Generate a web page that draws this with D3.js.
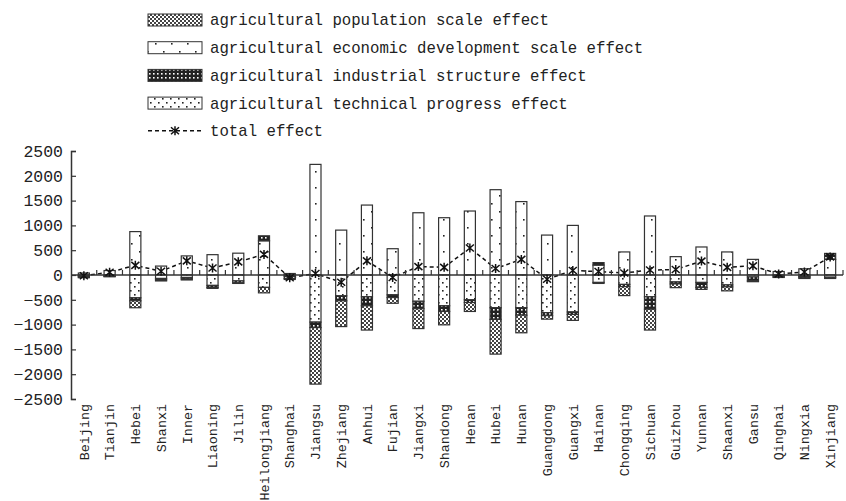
<!DOCTYPE html>
<html>
<head>
<meta charset="utf-8">
<script src="https://cdn.jsdelivr.net/npm/d3@7"></script>
<style>
  body { margin: 0; background: #fff; }
  text { font-family: "Liberation Mono", monospace; fill: #222; }
</style>
</head>
<body>
<div id="chart"></div>
<script>
// provinces and the four decomposition effects
const provinces = ["Beijing", "Tianjin", "Hebei", "Shanxi", "Inner", "Liaoning", "Jilin", "Heilongjiang",
  "Shanghai", "Jiangsu", "Zhejiang", "Anhui", "Fujian", "Jiangxi", "Shandong", "Henan", "Hubei", "Hunan",
  "Guangdong", "Guangxi", "Hainan", "Chongqing", "Sichuan", "Guizhou", "Yunnan", "Shaanxi", "Gansu",
  "Qinghai", "Ningxia", "Xinjiang"];

const population = [-15, -5, -140, -20, -20, -20, -10, -110, -20, -1140, -520, -490, -115, -400, -270,
  -180, -700, -355, -70, -120, -20, -180, -420, -75, -40, -80, -15, -10, -15, -25];
const economic = [40, 90, 875, 180, 385, 410, 440, 690, 30, 2230, 905, 1410, 530, 1255, 1155,
  1290, 1720, 1480, 805, 1000, 200, 465, 1190, 370, 565, 465, 315, 70, 125, 315];
const industrial = [-20, -10, -60, -30, -30, -40, -40, 100, -45, -110, -100, -180, -55, -150, -115,
  -55, -235, -150, -60, -50, 50, -45, -250, -40, -100, -40, -80, -25, -25, 120];
const technical = [-20, -20, -460, -70, -50, -210, -120, -250, -25, -950, -420, -440, -400, -530, -620,
  -500, -660, -660, -760, -745, -150, -190, -440, -140, -150, -200, -40, -15, -30, -45];
const total = [-15, 55, 195, 75, 285, 140, 265, 415, -55, 30, -145, 285, -50, 170, 155,
  545, 130, 315, -85, 90, 70, 40, 100, 110, 280, 155, 185, 20, 60, 365];

const yTicks = [-2500, -2000, -1500, -1000, -500, 0, 500, 1000, 1500, 2000, 2500];

const legendItems = [
  { key: "population", label: "agricultural population scale effect" },
  { key: "economic", label: "agricultural economic development scale effect" },
  { key: "industrial", label: "agricultural industrial structure effect" },
  { key: "technical", label: "agricultural technical progress effect" }
];

const width = 846, height = 501;
const margin = { top: 151, right: 3, bottom: 102, left: 71 };

const svg = d3.select("#chart").append("svg")
  .attr("width", width)
  .attr("height", height);

// fill patterns
const defs = svg.append("defs");

const pPop = defs.append("pattern").attr("id", "pat-population")
  .attr("patternUnits", "userSpaceOnUse").attr("width", 4).attr("height", 4);
pPop.append("rect").attr("width", 4).attr("height", 4).attr("fill", "#fff");
pPop.append("rect").attr("width", 2).attr("height", 2).attr("fill", "#444");
pPop.append("rect").attr("x", 2).attr("y", 2).attr("width", 2).attr("height", 2).attr("fill", "#444");

const pEco = defs.append("pattern").attr("id", "pat-economic")
  .attr("patternUnits", "userSpaceOnUse").attr("width", 16).attr("height", 16);
pEco.append("rect").attr("width", 16).attr("height", 16).attr("fill", "#fff");
pEco.append("rect").attr("x", 3).attr("y", 3).attr("width", 1.6).attr("height", 1.6).attr("fill", "#222");
pEco.append("rect").attr("x", 11).attr("y", 11).attr("width", 1.6).attr("height", 1.6).attr("fill", "#222");

const pInd = defs.append("pattern").attr("id", "pat-industrial")
  .attr("patternUnits", "userSpaceOnUse").attr("width", 4).attr("height", 4);
pInd.append("rect").attr("width", 4).attr("height", 4).attr("fill", "#222");
pInd.append("rect").attr("x", 1).attr("y", 1).attr("width", 1.6).attr("height", 1.6).attr("fill", "#fff");

const pTech = defs.append("pattern").attr("id", "pat-technical")
  .attr("patternUnits", "userSpaceOnUse").attr("width", 8).attr("height", 8);
pTech.append("rect").attr("width", 8).attr("height", 8).attr("fill", "#fff");
pTech.append("rect").attr("x", 2).attr("y", 2).attr("width", 1.6).attr("height", 1.6).attr("fill", "#222");
pTech.append("rect").attr("x", 6).attr("y", 6).attr("width", 1.6).attr("height", 1.6).attr("fill", "#222");

// scales
const x = d3.scaleBand()
  .domain(provinces)
  .range([margin.left, width - margin.right])
  .paddingInner(0.57)
  .paddingOuter(0.285);

const y = d3.scaleLinear()
  .domain([-2500, 2500])
  .range([height - margin.bottom, margin.top]);

// stacked data
const rows = provinces.map((p, i) => ({
  province: p,
  population: population[i],
  economic: economic[i],
  industrial: industrial[i],
  technical: technical[i],
  total: total[i]
}));

const series = d3.stack()
  .keys(["economic", "technical", "industrial", "population"])
  .offset(d3.stackOffsetDiverging)(rows);

// total effect dashed line (behind the bars)
const line = d3.line()
  .x(d => x(d.province) + x.bandwidth() / 2)
  .y(d => y(d.total));

svg.append("path")
  .datum(rows)
  .attr("d", line)
  .attr("fill", "none")
  .attr("stroke", "#111")
  .attr("stroke-width", 1.5)
  .attr("stroke-dasharray", "4,3");

// bars
series.forEach(s => {
  svg.append("g").selectAll("rect")
    .data(s)
    .enter()
    .append("rect")
    .attr("x", d => x(d.data.province))
    .attr("y", d => y(Math.max(d[0], d[1])))
    .attr("width", x.bandwidth())
    .attr("height", d => Math.abs(y(d[0]) - y(d[1])))
    .attr("fill", `url(#pat-${s.key})`)
    .attr("stroke", "#333")
    .attr("stroke-width", 1.2);
});

// axes
const xAxisG = svg.append("g")
  .attr("transform", `translate(0,${y(0)})`);
xAxisG.append("line")
  .attr("x1", x.range()[0]).attr("x2", x.range()[1])
  .attr("stroke", "#333").attr("stroke-width", 1.5);
xAxisG.selectAll(".tick")
  .data(d3.range(1, provinces.length + 1))
  .enter()
  .append("line")
  .attr("x1", i => x.range()[0] + i * x.step())
  .attr("x2", i => x.range()[0] + i * x.step())
  .attr("y1", 0).attr("y2", -5)
  .attr("stroke", "#333").attr("stroke-width", 1.2);

const yFormat = d => d < 0 ? "\u2212" + Math.abs(d) : String(d);
const yAxis = svg.append("g")
  .attr("transform", `translate(${margin.left},0)`)
  .call(d3.axisLeft(y).tickValues(yTicks).tickFormat(yFormat)
    .tickSizeInner(-5).tickSizeOuter(-5).tickPadding(8));
yAxis.select(".domain").attr("stroke", "#333").attr("stroke-width", 1.5);
yAxis.selectAll(".tick line").attr("stroke", "#333").attr("stroke-width", 1.2);
yAxis.selectAll("text")
  .style("font-family", "Liberation Mono, monospace")
  .style("font-size", "16.5px")
  .attr("fill", "#222");

// province labels
svg.append("g").selectAll("text")
  .data(provinces)
  .enter()
  .append("text")
  .attr("transform", d => `translate(${x(d) + x.bandwidth() / 2},${y(-2500) + 5}) rotate(-90)`)
  .attr("text-anchor", "end")
  .attr("dy", "0.35em")
  .style("font-size", "13.4px")
  .text(d => d);

// total markers (asterisks on top)
const star = "M0,-4.5V4.5M-4,-3.5L4,3.5M-4,3.5L4,-3.5";
svg.append("g").selectAll("path")
  .data(rows)
  .enter()
  .append("path")
  .attr("transform", d => `translate(${x(d.province) + x.bandwidth() / 2},${y(d.total)})`)
  .attr("d", star)
  .attr("fill", "none")
  .attr("stroke", "#111")
  .attr("stroke-width", 1.5);

// legend
const legend = svg.append("g");
const rowH = 27.7;
legendItems.forEach((item, i) => {
  const cy = 20 + i * rowH;
  legend.append("rect")
    .attr("x", 148).attr("y", cy - 6)
    .attr("width", 54).attr("height", 12)
    .attr("fill", `url(#pat-${item.key})`)
    .attr("stroke", "#333");
  legend.append("text")
    .attr("x", 210).attr("y", cy)
    .attr("dy", "0.35em")
    .style("font-size", "15.7px")
    .text(item.label);
});
const ly = 20 + 4 * rowH;
legend.append("line")
  .attr("x1", 148).attr("x2", 203)
  .attr("y1", ly).attr("y2", ly)
  .attr("stroke", "#111").attr("stroke-width", 1.5)
  .attr("stroke-dasharray", "4,3");
legend.append("path")
  .attr("transform", `translate(175,${ly})`)
  .attr("d", star)
  .attr("fill", "none")
  .attr("stroke", "#111")
  .attr("stroke-width", 1.5);
legend.append("text")
  .attr("x", 210).attr("y", ly)
  .attr("dy", "0.35em")
  .style("font-size", "15.7px")
  .text("total effect");
</script>
</body>
</html>
